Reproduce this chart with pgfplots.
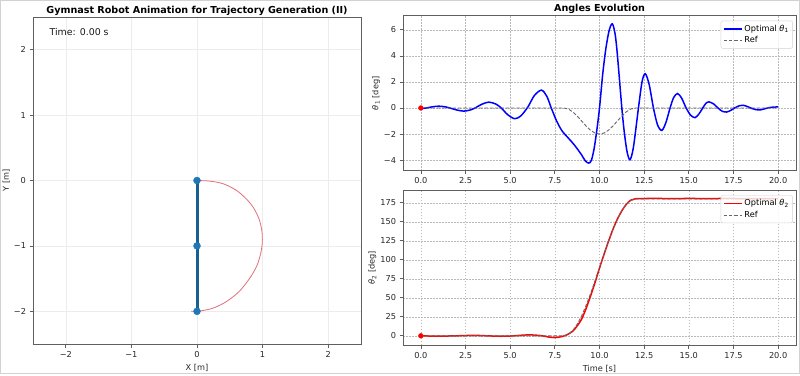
\documentclass[border=0pt]{standalone}
\usepackage{fontspec}
\setmainfont{DejaVu Sans}
\usepackage{pgfplots}
\pgfplotsset{compat=1.18}
\definecolor{tabblue}{HTML}{1F77B4}
\definecolor{arcred}{RGB}{224,112,120}
\definecolor{spine}{RGB}{95,95,95}
\pgfplotsset{
  mpl/.style={
    scale only axis,
    axis line style={spine, line width=0.9pt},
    tick align=outside,
    major tick length=3.5pt,
    tick style={spine, line width=0.7pt},
    xtick pos=lower, ytick pos=left,
    ticklabel style={font=\fontsize{8.2}{9}\selectfont, text=black!85},
    label style={font=\fontsize{8.2}{9}\selectfont, text=black!85},
    ylabel shift=-3pt,
    every axis title shift=0pt,
    title style={font=\bfseries\fontsize{9.6}{11}\selectfont, at={(0.5,1)}, anchor=base, yshift=4pt},
    legend cell align=left,
    legend image code/.code={\draw[#1] (0pt,0pt) -- (18pt,0pt);},
    legend style={anchor=north east, draw=gray!35, rounded corners=2pt,
      fill=white, fill opacity=0.8, text opacity=1,
      font=\fontsize{8.2}{9.5}\selectfont, inner sep=2pt, row sep=0pt},
  },
  rgrid/.style={grid=major, grid style={dash pattern=on 1.5pt off 1.5pt, gray!55, line width=0.5pt}},
}
\begin{document}
\begin{tikzpicture}
\useasboundingbox (0pt,0pt) rectangle (800pt,375pt);
\draw[gray!35, line width=1pt] (0.5pt,1.5pt) rectangle (799.5pt,374.5pt);

% ---------- left: animation ----------
\begin{axis}[mpl, at={(33pt,31pt)}, anchor=south west, width=328pt, height=327pt,
  xmin=-2.5, xmax=2.5, ymin=-2.5, ymax=2.5,
  xtick={-2,-1,0,1,2}, ytick={-2,-1,0,1,2},
  xticklabels={−2,−1,0,1,2}, yticklabels={−2,−1,0,1,2},
  grid=major, grid style={gray!15, line width=0.6pt},
  xlabel={X [m]}, ylabel={Y [m]},
  title={Gymnast Robot Animation for Trajectory Generation (II)}]
\addplot[arcred, line width=0.8pt, smooth] coordinates {
(0,0) (0.2,-0.01) (0.4,-0.05) (0.6,-0.15) (0.76,-0.29) (0.87,-0.43) (0.95,-0.6)
(0.99,-0.78) (0.995,-0.95) (0.97,-1.12) (0.91,-1.31) (0.8,-1.5) (0.64,-1.70)
(0.45,-1.85) (0.25,-1.95) (0.05,-1.995) (-0.09,-2.0)};
\addplot[tabblue!80!black, line width=3pt, mark=*, mark size=3.5pt,
  mark options={tabblue, draw=tabblue, line width=0.4pt}] coordinates {(0,0) (0,-1) (0,-2)};
\node[anchor=north west, font=\fontsize{9.4}{11}\selectfont, text=black!90] at (rel axis cs:0.04,0.975) {Time: 0.00 s};
\end{axis}

% ---------- right top: theta1 ----------
\begin{axis}[mpl, rgrid, at={(403pt,204.3pt)}, anchor=south west, width=393pt, height=155pt,
  xmin=-1, xmax=21, ymin=-4.81, ymax=7.08,
  xtick={0,2.5,5,7.5,10,12.5,15,17.5,20},
  xticklabels={0.0,2.5,5.0,7.5,10.0,12.5,15.0,17.5,20.0},
  ytick={-4,-2,0,2,4,6}, yticklabels={−4,−2,0,2,4,6},
  ylabel={{\itshape θ}\textsubscript{1} [deg]},
  title={Angles Evolution},
  legend style={at={(0.992,0.968)}}]
\addplot[blue, line width=1.5pt, smooth, tension=0.5] coordinates {
(0,-0.05) (0.3,0.0) (0.6,0.08) (1.0,0.14) (1.4,0.08) (1.7,-0.03) (2.0,-0.15) (2.4,-0.24)
(2.8,-0.14) (3.1,0.05) (3.4,0.28) (3.8,0.45) (4.2,0.3) (4.5,0.0) (4.85,-0.5) (5.25,-0.82)
(5.6,-0.6) (6.0,0.1) (6.35,0.95) (6.75,1.37) (7.05,0.9) (7.3,0.0) (7.6,-1.0) (7.9,-1.75)
(8.25,-2.3) (8.6,-2.85) (9.0,-3.6) (9.2,-4.05) (9.4,-4.23) (9.55,-4.0) (9.7,-3.1)
(9.85,-1.7) (10.0,0.0) (10.18,2.6) (10.36,4.6) (10.55,6.0) (10.72,6.45) (10.87,5.7)
(11.0,4.1) (11.25,0.0) (11.4,-2.0) (11.55,-3.4) (11.71,-3.97) (11.9,-3.0) (12.18,0.0)
(12.38,2.0) (12.56,2.63) (12.78,1.8) (13.02,0.0) (13.25,-1.3) (13.49,-1.72) (13.72,-1.1)
(13.95,0.0) (14.15,0.8) (14.37,1.11) (14.6,0.75) (14.85,0.0) (15.1,-0.55) (15.35,-0.74)
(15.57,-0.45) (15.78,0.0) (15.95,0.35) (16.13,0.47) (16.4,0.3) (16.63,0.0) (16.87,-0.25)
(17.12,-0.31) (17.35,-0.18) (17.6,0.03) (17.85,0.18) (18.05,0.21) (18.3,0.1)
(18.52,-0.03) (18.75,-0.13) (18.99,-0.15) (19.25,-0.06) (19.5,0.03) (19.75,0.07) (20.0,0.08)};
\addlegendentry{Optimal {\itshape θ}\textsubscript{1}}
\addplot[black!60, line width=0.9pt, dash pattern=on 3.5pt off 1.8pt] coordinates {
(0,0) (8,0) (8.25,-0.076) (8.5,-0.293) (8.75,-0.617) (9,-1) (9.25,-1.383) (9.5,-1.707)
(9.75,-1.924) (10,-2) (10.25,-1.924) (10.5,-1.707) (10.75,-1.383) (11,-1) (11.25,-0.617)
(11.5,-0.293) (11.75,-0.076) (12,0) (20,0)};
\addlegendentry{Ref}
\addplot[only marks, mark=*, red, mark size=2.4pt, forget plot] coordinates {(0,0)};
\end{axis}

% ---------- right bottom: theta2 ----------
\begin{axis}[mpl, rgrid, at={(403pt,29.7pt)}, anchor=south west, width=393pt, height=155pt,
  xmin=-1, xmax=21, ymin=-12.5, ymax=191.5,
  xtick={0,2.5,5,7.5,10,12.5,15,17.5,20},
  xticklabels={0.0,2.5,5.0,7.5,10.0,12.5,15.0,17.5,20.0},
  ytick={0,25,50,75,100,125,150,175},
  yticklabels={0,25,50,75,100,125,150,175},
  ylabel={{\itshape θ}\textsubscript{2} [deg]}, xlabel={Time [s]},
  legend style={at={(0.992,0.968)}}]
\addplot[red, line width=1.5pt, smooth, tension=0.5] coordinates {
(0,0) (0.5,-0.3) (1,-0.5) (2,0.0) (3,0.6) (4,-0.3) (4.5,-0.6) (5,-0.3) (6,1.2) (6.7,0.3)
(7.2,-1.8) (7.5,-2.4) (7.9,-1.0) (8.15,1.0) (8.5,6.0) (8.75,13) (9,22) (9.25,36) (9.5,52.5)
(9.75,70) (10,89) (10.25,107) (10.5,124) (10.75,140) (11,153.5) (11.25,164.5) (11.5,173)
(11.75,178.5) (12,180.3) (12.5,180.6) (13,181) (13.5,180.7) (14,180.4) (15,180.8)
(16,180.5) (17,180.8) (18,180.6) (19,180.5) (20,180.6)};
\addlegendentry{Optimal {\itshape θ}\textsubscript{2}}
\addplot[black!60, line width=0.9pt, dash pattern=on 3.5pt off 1.8pt] coordinates {
(0,0) (8,0) (8.25,1.73) (8.5,6.85) (8.75,15.17) (9,26.36) (9.25,40.0) (9.5,55.56)
(9.75,72.44) (10,90) (10.25,107.56) (10.5,124.44) (10.75,140.0) (11,153.64)
(11.25,164.83) (11.5,173.15) (11.75,178.27) (12,180) (20,180)};
\addlegendentry{Ref}
\addplot[only marks, mark=*, red, mark size=2.4pt, forget plot] coordinates {(0,0)};
\end{axis}
\end{tikzpicture}
\end{document}
